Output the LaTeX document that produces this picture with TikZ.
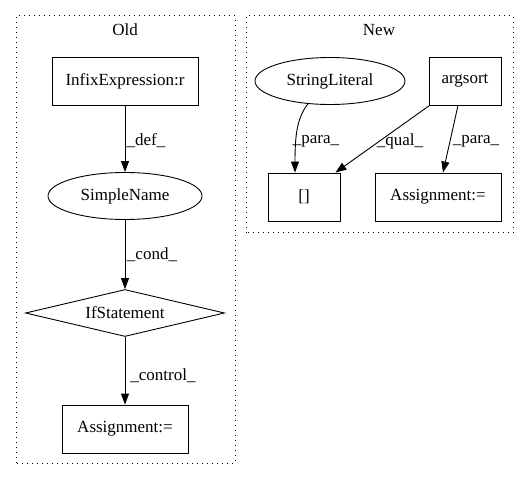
\documentclass[tikz,border=0pt]{standalone}
\usepackage{fontspec}
\setmainfont{Liberation Serif}
\usetikzlibrary{shapes.geometric,arrows.meta}
\begin{document}
\begin{tikzpicture}[x=1pt,y=1pt,
  every node/.style={font=\fontsize{17}{19}\selectfont},
  cluster/.style={draw, line width=1pt, dash pattern=on 1pt off 4pt},
  boxnode/.style={draw, line width=0.9pt, rectangle, minimum height=48pt, inner sep=0pt},
  ellnode/.style={draw, line width=0.9pt, ellipse, minimum height=47pt, inner sep=0pt},
  dianode/.style={draw, line width=0.9pt, diamond, aspect=4, inner sep=0pt, minimum width=199pt, minimum height=47pt},
  conn/.style={line width=0.9pt, -{Triangle[length=11pt,width=8pt]}},
  elabel/.style={inner sep=0pt}
]
\useasboundingbox (0,0) rectangle (528,480);
% clusters
\draw[cluster] (16,17) rectangle (235,464);
\draw[cluster] (246,247) rectangle (513,464);
\node (oldlbl) at (125,450) {Old};
\node (newlbl) at (379,450) {New};
% Old nodes
\node[boxnode, minimum width=146pt] (infix) at (125,399) {InfixExpression:r};
\node[ellnode, minimum width=154pt] (simple) at (125,284) {SimpleName};
\node[dianode] (ifst) at (125,167) {IfStatement};
\node[boxnode, minimum width=126pt] (assign1) at (125,51) {Assignment:=};
% New nodes
\node[ellnode, minimum width=150pt] (strlit) at (330,399) {StringLiteral};
\node[boxnode, minimum width=72pt] (argsort) at (465,399) {argsort};
\node[boxnode, minimum width=72pt] (brk) at (304,283) {[]};
\node[boxnode, minimum width=126pt] (assign2) at (438,283) {Assignment:=};
% Old edges
\draw[conn] (infix) -- (simple);
\node[elabel] (l1) at (146,339) {\_def\_};
\draw[conn] (simple) -- (ifst);
\node[elabel] (l2) at (152,225) {\_cond\_};
\draw[conn] (ifst) -- (assign1);
\node[elabel] (l3) at (163,104) {\_control\_};
% New edges
\draw[conn] (strlit.226) .. controls (297,362) and (295,345) .. ([xshift=-9pt]brk.north);
\node[elabel] (l4) at (316,339) {\_para\_};
\draw[conn] ([xshift=1pt]argsort.south west) -- ([xshift=-5pt]brk.north east);
\node[elabel] (l5) at (400,339) {\_qual\_};
\draw[conn] ([xshift=-7pt]argsort.south) -- ([xshift=5pt]assign2.north);
\node[elabel] (l6) at (476,339) {\_para\_};
\end{tikzpicture}
\end{document}
